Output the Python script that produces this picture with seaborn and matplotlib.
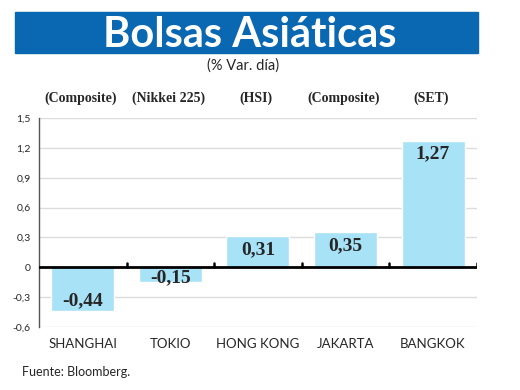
import pandas as pd
import matplotlib.pyplot as plt
import matplotlib.patches as mpatches
import seaborn as sns

# data
markets = ["SHANGHAI", "TOKIO", "HONG KONG", "JAKARTA", "BANGKOK"]
indices = ["(Composite)", "(Nikkei 225)", "(HSI)", "(Composite)", "(SET)"]
changes = [-0.44, -0.15, 0.31, 0.35, 1.27]
yticks = [-0.6, -0.3, 0, 0.3, 0.6, 0.9, 1.2, 1.5]

BANNER = "#0A67B2"
BAR = "#A8E2F7"

sns.set_theme(style="white")
plt.rcParams["font.family"] = ["Lato", "DejaVu Sans"]

df = pd.DataFrame({"market": markets, "change": changes})

fig = plt.figure(figsize=(5.2, 3.9), dpi=100)
ax = fig.add_axes([0.075, 0.1615, 0.842, 0.536])

# title banner
fig.patches.append(mpatches.Rectangle((0.029, 0.864), 0.890, 0.105,
                                      transform=fig.transFigure,
                                      color=BANNER, zorder=0))
fig.text(0.481, 0.911, "Bolsas Asiáticas", color="white", fontsize=30,
         fontweight="bold", ha="center", va="center")
fig.text(0.468, 0.833, "(% Var. día)", fontsize=10.5, ha="center", va="center")

for ytick in yticks:
    ax.axhline(ytick, color="#dcdcdc", lw=1, zorder=0)

sns.barplot(data=df, x="market", y="change", color=BAR, width=0.72,
            saturation=1, ax=ax, zorder=2)

ax.axhline(0, color="black", lw=2, zorder=3)
for b in [0.5, 1.5, 2.5, 3.5, 4.5]:
    ax.plot([b, b], [0, 0.04], color="black", lw=1.8, zorder=3)

for i, v in enumerate(changes):
    y = v - 0.13 if v > 0 else min(v + 0.1, -0.1)
    ax.text(i, y, f"{v:.2f}".replace(".", ","), ha="center", va="center",
            fontsize=14, fontweight="bold", family="Liberation Serif", zorder=4)
    ax.text(i - 0.02, 1.7, indices[i], ha="center", va="center", fontsize=10,
            fontweight="bold", family="Liberation Serif", clip_on=False)

ax.set_xlim(-0.5, 4.5)
ax.set_ylim(-0.6, 1.5)
ax.set_yticks(yticks)
ax.set_yticklabels([f"{t:g}".replace(".", ",") for t in yticks], fontsize=7.5)
ax.tick_params(axis="both", length=0, pad=6)
ax.tick_params(axis="x", labelsize=9.5, pad=8)
ax.set_xlabel("")
ax.set_ylabel("")
for s in ["top", "right", "bottom"]:
    ax.spines[s].set_visible(False)
ax.spines["left"].set_color("#555555")
ax.spines["left"].set_linewidth(1)

fig.text(0.042, 0.047, "Fuente: Bloomberg.", fontsize=9, ha="left", va="center")

fig.savefig("out.png", dpi=100)
